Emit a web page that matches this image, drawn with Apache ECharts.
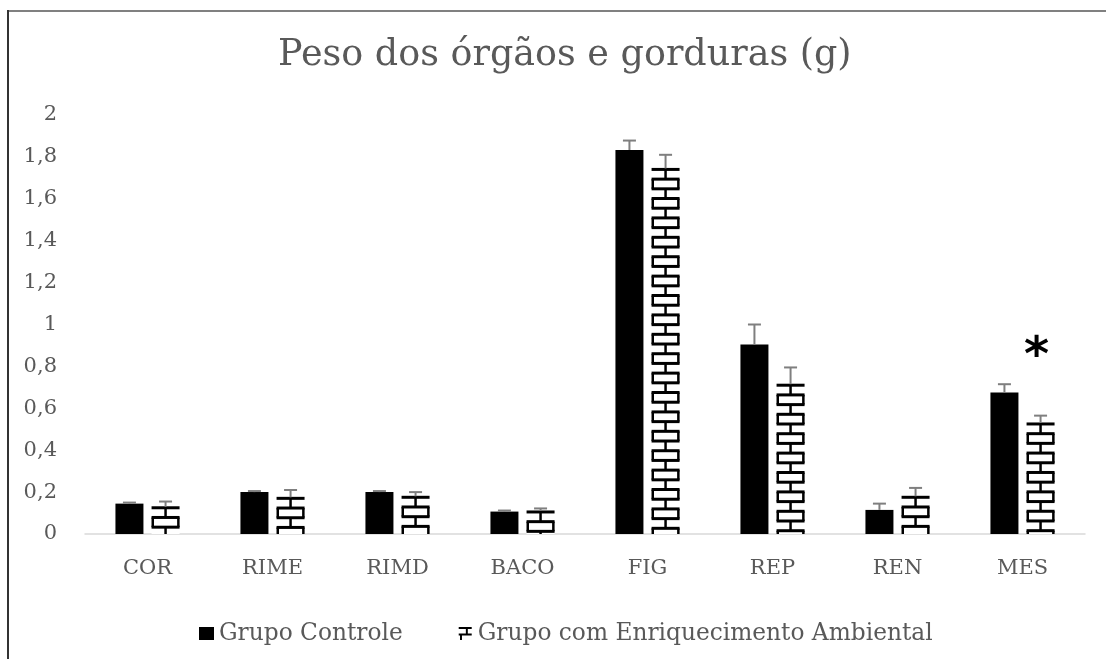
<!DOCTYPE html>
<html>
<head>
<meta charset="utf-8">
<script src="https://cdn.jsdelivr.net/npm/echarts@6/dist/echarts.min.js"></script>
<style>
html,body{margin:0;padding:0;background:#fff;}
#chart{width:1106px;height:659px;}
</style>
</head>
<body>
<div id="chart"></div>
<script>
const categories = ['COR', 'RIME', 'RIMD', 'BACO', 'FIG', 'REP', 'REN', 'MES'];
const controlValues = [0.145, 0.2, 0.2, 0.107, 1.833, 0.905, 0.115, 0.675];
const controlErrors = [0.005, 0.005, 0.005, 0.005, 0.045, 0.095, 0.03, 0.04];
const enrichedValues = [0.13, 0.175, 0.18, 0.11, 1.745, 0.715, 0.18, 0.53];
const enrichedErrors = [0.025, 0.035, 0.02, 0.012, 0.065, 0.08, 0.04, 0.035];
const yTicks = { min: 0, max: 2, interval: 0.2 };
const seriesNames = ['Grupo Controle', 'Grupo com Enriquecimento Ambiental'];
const significance = [{ category: 'MES', value: 0.835, label: '*' }];

const FONT = '"DejaVu Serif", "Liberation Serif", serif';
const TEXT = '#595959';
const BAR_W = 28;     // px
const GAP_FRAC = 0.29; // barGap fraction

function barCenter(api, idx, which) {
  const c = api.coord([idx, 0]);
  const gap = BAR_W * GAP_FRAC;
  const off = gap / 2 + BAR_W / 2;
  return [which === 0 ? c[0] - off : c[0] + off, c[1]];
}

const brickData = enrichedValues.map((v, i) => [i, v]);
const errData = [];
controlValues.forEach((v, i) => errData.push([i, v, controlErrors[i], 0]));
enrichedValues.forEach((v, i) => errData.push([i, v, enrichedErrors[i], 1]));

const chart = echarts.init(document.getElementById('chart'));
chart.setOption({
  animation: false,
  backgroundColor: '#fff',
  title: {
    text: 'Peso dos órgãos e gorduras (g)',
    left: 278,
    top: 37,
    padding: 0,
    textStyle: { fontFamily: FONT, fontSize: 36.5, fontWeight: 'normal', color: TEXT }
  },
  graphic: [
    { type: 'line', shape: { x1: 8, y1: 11, x2: 1106, y2: 11 }, style: { stroke: '#808080', lineWidth: 2 }, silent: true },
    { type: 'line', shape: { x1: 8, y1: 10, x2: 8, y2: 659 }, style: { stroke: '#333', lineWidth: 2 }, silent: true }
  ],
  legend: {
    bottom: 9,
    left: 194,
    itemGap: 56,
    itemWidth: 15,
    itemHeight: 13,
    textStyle: { fontFamily: FONT, fontSize: 23.3, color: TEXT },
    data: [
      { name: seriesNames[0], icon: 'rect', itemStyle: { color: '#000' } },
      { name: seriesNames[1], icon: 'path://M0,1H10V2.6H0Z M0,6H10V7.6H0Z M5.5,1H7V6H5.5Z M1,6H2.5V11H1Z', itemStyle: { color: '#000' } }
    ]
  },
  grid: { left: 85, right: 21, top: 115, bottom: 125, containLabel: false },
  xAxis: {
    type: 'category',
    data: categories,
    axisLine: { lineStyle: { color: '#d9d9d9', width: 1.5 } },
    axisTick: { show: false },
    axisLabel: { fontFamily: FONT, fontSize: 21, color: TEXT, margin: 24 }
  },
  yAxis: {
    type: 'value',
    min: yTicks.min, max: yTicks.max, interval: yTicks.interval,
    axisLine: { show: false },
    axisTick: { show: false },
    splitLine: { show: false },
    axisLabel: {
      fontFamily: FONT, fontSize: 21, color: TEXT, margin: 28,
      formatter: v => String(Math.round(v * 10) / 10).replace('.', ',')
    }
  },
  series: [
    {
      name: seriesNames[0], type: 'bar', data: controlValues,
      barWidth: BAR_W, barGap: (GAP_FRAC * 100) + '%',
      itemStyle: { color: '#000' }
    },
    {
      name: seriesNames[1], type: 'bar', data: enrichedValues,
      barWidth: BAR_W, barGap: (GAP_FRAC * 100) + '%',
      itemStyle: { color: '#fff' },
      markPoint: {
        symbol: 'circle', symbolSize: 1,
        itemStyle: { color: 'rgba(0,0,0,0)' },
        label: { show: true, position: 'inside', offset: [-4, -2], fontSize: 48, fontWeight: 'bold', fontFamily: '"DejaVu Sans", sans-serif', color: '#000', formatter: p => p.data.lab },
        data: significance.map(s => ({ coord: [s.category, s.value], lab: s.label }))
      }
    },
    {
      name: 'bricks', type: 'custom', data: brickData, z: 3, silent: true,
      renderItem: function (params, api) {
        const idx = api.value(0), v = api.value(1);
        const base = barCenter(api, idx, 1);
        const topY = api.coord([idx, v])[1];
        const x0 = base[0] - BAR_W / 2, x1 = base[0] + BAR_W / 2;
        const rowH = 9.7;
        const children = [];
        let y = topY + 1, row = 0;
        while (y < base[1] + 0.5) {
          children.push({ type: 'line', shape: { x1: x0, y1: y, x2: x1, y2: y }, style: { stroke: '#000', lineWidth: 3 } });
          const yNext = Math.min(y + rowH, base[1]);
          if (yNext > y + 0.5) {
            if (row % 2 === 0) {
              children.push({ type: 'line', shape: { x1: base[0], y1: y, x2: base[0], y2: yNext }, style: { stroke: '#000', lineWidth: 2.5 } });
            } else {
              children.push({ type: 'line', shape: { x1: x0 + 1.2, y1: y, x2: x0 + 1.2, y2: yNext }, style: { stroke: '#000', lineWidth: 2.5 } });
              children.push({ type: 'line', shape: { x1: x1 - 1.2, y1: y, x2: x1 - 1.2, y2: yNext }, style: { stroke: '#000', lineWidth: 2.5 } });
            }
          }
          y += rowH; row++;
        }
        return { type: 'group', children };
      }
    },
    {
      name: 'errors', type: 'custom', data: errData, z: 4, silent: true,
      renderItem: function (params, api) {
        const idx = api.value(0), v = api.value(1), e = api.value(2), which = api.value(3);
        const c = barCenter(api, idx, which);
        const yTop = api.coord([idx, v + e])[1];
        const yBar = api.coord([idx, v])[1];
        const half = 6.5;
        return {
          type: 'group',
          children: [
            { type: 'line', shape: { x1: c[0], y1: yBar, x2: c[0], y2: yTop }, style: { stroke: '#7f7f7f', lineWidth: 2 } },
            { type: 'line', shape: { x1: c[0] - half, y1: yTop, x2: c[0] + half, y2: yTop }, style: { stroke: '#7f7f7f', lineWidth: 2 } }
          ]
        };
      }
    }
  ]
});
</script>
</body>
</html>
